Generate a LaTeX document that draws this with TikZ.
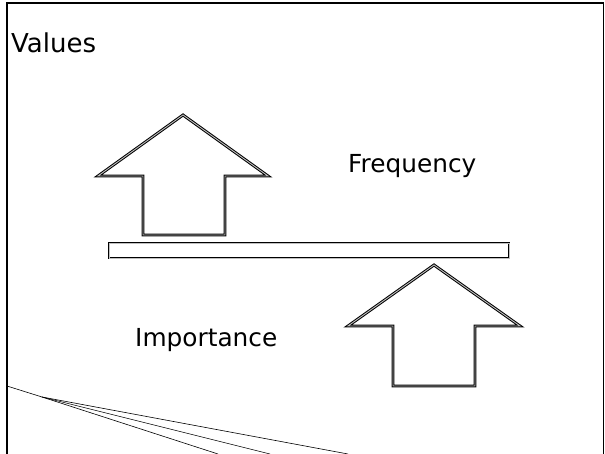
\documentclass[tikz,border=0pt]{standalone}
\usepackage{fontspec}
\setmainfont{DejaVu Sans}
\begin{document}
\begin{tikzpicture}[x=1pt,y=-1pt]
    \tikzstyle{every node}+=[inner sep=0pt]
    \tikzstyle{hollow}=[draw=black, line width=1pt, double=gray!50, double distance=0.9pt, fill=white, line join=miter]
    \tikzstyle{label}=[font=\fontsize{24.8}{29}\selectfont, anchor=base west]
    \useasboundingbox (0,0) rectangle (605,454);
    % frame
    \draw [black, line width=1.5pt] (7,454) -- (7,3) -- (603.5,3) -- (603.5,454);
    \node [label, font=\fontsize{26}{30}\selectfont] (values) at (11,53) {Values};
    % upper arrow
    \draw [hollow] (183,115) -- (268,176) -- (225,176) -- (225,235) -- (143,235) -- (143,176) -- (98,176) -- cycle;
    % bar
    \draw [hollow] (109,243) rectangle (509,258);
    % lower arrow
    \draw [hollow] (434,265) -- (520,326) -- (475,326) -- (475,386) -- (393,386) -- (393,326) -- (348,326) -- cycle;
    \node [label] (freq) at (348,173) {Frequency};
    \node [label] (imp) at (135,346) {Importance};
    % lines at the bottom
    \coordinate (hub) at (42,397);
    \draw [black, line width=0.6pt] (7,386) -- (hub);
    \draw [black, line width=0.6pt] (hub) -- (218,454);
    \draw [black, line width=0.6pt] (hub) -- (270,454);
    \draw [black, line width=0.6pt] (hub) -- (348,454);
\end{tikzpicture}
\end{document}
